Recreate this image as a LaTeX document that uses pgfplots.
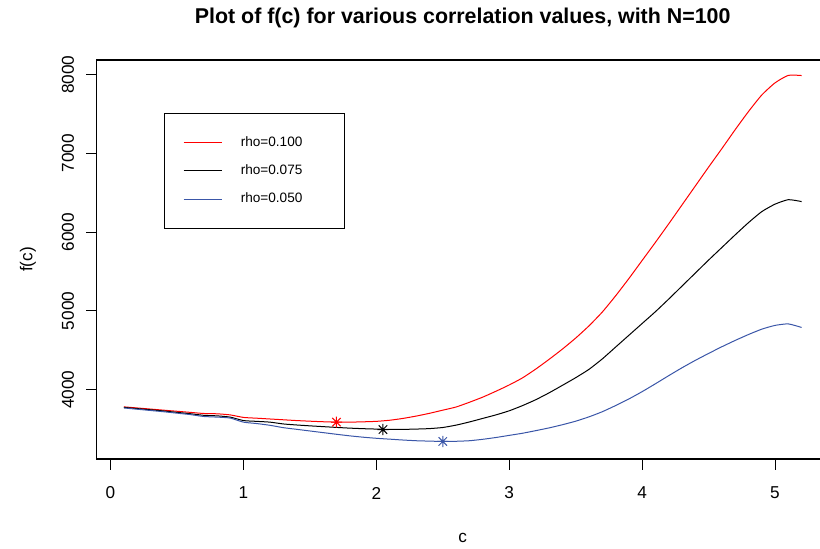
\documentclass[border=0pt]{standalone}
\usepackage{fontspec}
\setmainfont{Liberation Sans}
\usepackage{pgfplots}
\usepackage{pgfplotstable}
\pgfplotsset{compat=1.18}
\definecolor{rred}{RGB}{255,0,0}
\definecolor{rblue}{RGB}{58,86,168}
\pgfdeclareplotmark{rstar}{%
  \pgfpathmoveto{\pgfqpoint{-\pgfplotmarksize}{0pt}}\pgfpathlineto{\pgfqpoint{\pgfplotmarksize}{0pt}}%
  \pgfpathmoveto{\pgfqpoint{0pt}{-\pgfplotmarksize}}\pgfpathlineto{\pgfqpoint{0pt}{\pgfplotmarksize}}%
  \pgfpathmoveto{\pgfqpoint{-0.75\pgfplotmarksize}{-0.75\pgfplotmarksize}}\pgfpathlineto{\pgfqpoint{0.75\pgfplotmarksize}{0.75\pgfplotmarksize}}%
  \pgfpathmoveto{\pgfqpoint{-0.75\pgfplotmarksize}{0.75\pgfplotmarksize}}\pgfpathlineto{\pgfqpoint{0.75\pgfplotmarksize}{-0.75\pgfplotmarksize}}%
  \pgfusepathqstroke}
\pgfplotstableread{
c f
0.1 3782
0.2 3768
0.3 3754
0.4 3740
0.5 3726
0.6 3712
0.7 3698
0.8 3694
0.9 3680
1.0 3648
1.1 3638
1.2 3628
1.3 3618
1.4 3608
1.5 3600
1.6 3593
1.7 3588
1.8 3588
1.9 3592
2.0 3598
2.1 3612
2.2 3635
2.3 3665
2.4 3700
2.5 3740
2.6 3780
2.7 3840
2.8 3905
2.9 3980
3.0 4060
3.1 4150
3.2 4262
3.3 4385
3.4 4515
3.5 4655
3.6 4810
3.7 4985
3.8 5190
3.9 5410
4.0 5640
4.1 5870
4.2 6105
4.3 6345
4.4 6585
4.5 6825
4.6 7060
4.7 7300
4.8 7530
4.9 7740
5.0 7895
5.1 7990
5.2 7988
}\redtab
\pgfplotstableread{
c f
0.1 3775
0.2 3760
0.3 3745
0.4 3730
0.5 3712
0.6 3695
0.7 3675
0.8 3668
0.9 3652
1.0 3608
1.1 3598
1.2 3588
1.3 3565
1.4 3552
1.5 3541
1.6 3531
1.7 3521
1.8 3512
1.9 3505
2.0 3500
2.1 3496
2.2 3496
2.3 3500
2.4 3506
2.5 3520
2.6 3550
2.7 3590
2.8 3635
2.9 3680
3.0 3732
3.1 3798
3.2 3873
3.3 3960
3.4 4055
3.5 4152
3.6 4258
3.7 4390
3.8 4540
3.9 4690
4.0 4840
4.1 4990
4.2 5150
4.3 5315
4.4 5480
4.5 5645
4.6 5805
4.7 5965
4.8 6120
4.9 6260
5.0 6355
5.1 6412
5.2 6388
}\blacktab
\pgfplotstableread{
c f
0.1 3768
0.2 3752
0.3 3736
0.4 3720
0.5 3702
0.6 3684
0.7 3660
0.8 3652
0.9 3640
1.0 3588
1.1 3570
1.2 3548
1.3 3518
1.4 3497
1.5 3476
1.6 3455
1.7 3434
1.8 3414
1.9 3397
2.0 3383
2.1 3372
2.2 3361
2.3 3352
2.4 3347
2.5 3343
2.6 3345
2.7 3352
2.8 3370
2.9 3393
3.0 3420
3.1 3447
3.2 3480
3.3 3515
3.4 3555
3.5 3600
3.6 3655
3.7 3720
3.8 3798
3.9 3882
4.0 3975
4.1 4075
4.2 4178
4.3 4278
4.4 4372
4.5 4460
4.6 4545
4.7 4625
4.8 4700
4.9 4768
5.0 4816
5.1 4835
5.2 4790
}\bluetab
\begin{document}
\begin{tikzpicture}
\useasboundingbox (-48.35pt,-44.5pt) rectangle (361.65pt,229.5pt);
\begin{axis}[
  at={(0pt,0pt)}, anchor=south west,
  scale only axis, width=366pt, height=199.5pt,
  xmin=-0.104, xmax=5.404, ymin=3120, ymax=8185,
  xtick={0,1,2,3,4,5}, ytick={4000,5000,6000,7000,8000},
  scaled ticks=false,
  /pgf/number format/1000 sep={},
  /pgf/number format/assume math mode=true,
  tick pos=left, tick align=outside, major tick length=5.25pt,
  axis line style={line width=0.75pt},
  every tick/.style={black, line width=0.5pt},
  tick label style={font=\fontsize{8.6}{10}\selectfont},
  xticklabel style={anchor=center},
  xticklabel shift=11.75pt,
  yticklabel style={rotate=90, anchor=center},
  yticklabel shift=9.1pt,
  label style={font=\fontsize{8.6}{10}\selectfont},
  xlabel={c},
  xlabel style={at={([yshift=-39.5pt]axis description cs:0.5,0)}, anchor=center},
  title={Plot of f(c) for various correlation values, with N=100},
  title style={at={([yshift=15pt]axis description cs:0.5,1)}, anchor=center, font=\bfseries\fontsize{10.7}{12}\selectfont},
  legend style={at={(0.0923,0.8664)}, anchor=north west, draw=black, line width=0.5pt, fill=white,
    font=\fontsize{6.8}{8}\selectfont, inner xsep=9.2pt, inner ysep=7.35pt,
    row sep=0pt, column sep=9.3pt, nodes={inner sep=0pt, minimum height=14.15pt}},
  legend cell align=left,
  legend image code/.code={\draw[#1] (0pt,0pt) -- (19pt,0pt);},
]
\addplot[rred, line width=0.5pt, mark=none, smooth, tension=0.35] table[x=c, y=f] {\redtab};
\addlegendentry{\makebox[42.6pt][l]{rho=0.100}}
\addplot[black, line width=0.5pt, mark=none, smooth, tension=0.35] table[x=c, y=f] {\blacktab};
\addlegendentry{\makebox[42.6pt][l]{rho=0.075}}
\addplot[rblue, line width=0.5pt, mark=none, smooth, tension=0.35] table[x=c, y=f] {\bluetab};
\addlegendentry{\makebox[42.6pt][l]{rho=0.050}}
\addplot[rred, only marks, mark=rstar, mark size=2.8pt, line width=0.5pt, forget plot] coordinates {(1.70,3588)};
\addplot[black, only marks, mark=rstar, mark size=2.8pt, line width=0.5pt, forget plot] coordinates {(2.05,3494)};
\addplot[rblue, only marks, mark=rstar, mark size=2.8pt, line width=0.5pt, forget plot] coordinates {(2.50,3343)};
\end{axis}
\node[rotate=90, anchor=center, inner sep=0pt, font=\fontsize{8.6}{10}\selectfont] at (-34.35pt,99.75pt) {f(c)};
\end{tikzpicture}
\end{document}
